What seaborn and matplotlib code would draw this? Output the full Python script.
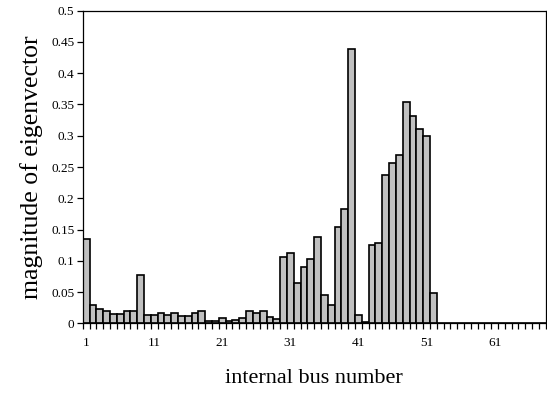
import numpy as np
import pandas as pd
import matplotlib
matplotlib.use("Agg")
import matplotlib.pyplot as plt
import seaborn as sns

bus_numbers = list(range(1, 69))
magnitudes = [
    0.135, 0.029, 0.023, 0.019, 0.015, 0.015, 0.019, 0.019, 0.077, 0.013,
    0.013, 0.016, 0.013, 0.016, 0.012, 0.012, 0.016, 0.020, 0.004, 0.004,
    0.009, 0.004, 0.006, 0.009, 0.020, 0.016, 0.020, 0.010, 0.007, 0.106,
    0.113, 0.064, 0.090, 0.103, 0.138, 0.045, 0.029, 0.154, 0.183, 0.439,
    0.013, 0.002, 0.125, 0.129, 0.238, 0.257, 0.270, 0.354, 0.331, 0.311,
    0.299, 0.048, 0, 0, 0, 0, 0, 0, 0, 0,
    0, 0, 0, 0, 0, 0, 0, 0,
]
xtick_labels = ["1", "11", "21", "31", "41", "51", "61"]
ytick_values = [0, 0.05, 0.1, 0.15, 0.2, 0.25, 0.3, 0.35, 0.4, 0.45, 0.5]
ytick_labels = ["0", "0.05", "0.1", "0.15", "0.2", "0.25", "0.3", "0.35", "0.4", "0.45", "0.5"]

df = pd.DataFrame({"bus": [str(b) for b in bus_numbers], "mag": magnitudes})

sns.set_theme(style="white")
plt.rcParams["font.family"] = ["Liberation Serif", "DejaVu Serif"]

fig = plt.figure(figsize=(5.47, 3.94), dpi=100)
ax = fig.add_axes([0.1512, 0.1794, 0.8464, 0.7934])

sns.barplot(data=df, x="bus", y="mag", color="#c0c0c0", saturation=1,
            width=1.0, edgecolor="black", linewidth=1.2, ax=ax)

n = len(bus_numbers)
ax.set_xlim(-0.5, n - 0.5)
ax.set_ylim(0, 0.5)

major_pos = [bus_numbers.index(int(t)) for t in xtick_labels]
ax.set_xticks(major_pos)
ax.set_xticklabels(xtick_labels, fontsize=9.5)
ax.set_xticks(np.arange(-0.5, n, 1.0), minor=True)
ax.tick_params(axis="x", which="major", length=0, pad=10, colors="black")
ax.tick_params(axis="x", which="minor", length=4, width=0.9, direction="out",
               color="black", bottom=True)

ax.set_yticks(ytick_values)
ax.set_yticklabels(ytick_labels, fontsize=9.5)
ax.tick_params(axis="y", which="major", length=4, width=0.9, direction="out",
               color="black", left=True, pad=2, labelcolor="black")

for s in ax.spines.values():
    s.set_visible(True)
    s.set_color("black")
    s.set_linewidth(0.9)

ax.set_xlabel("internal bus number", fontsize=16, labelpad=14, color="black")
ax.set_ylabel("magnitude of eigenvector", fontsize=18.5, labelpad=6, color="black")

fig.savefig("out.png", dpi=100, facecolor="white")
